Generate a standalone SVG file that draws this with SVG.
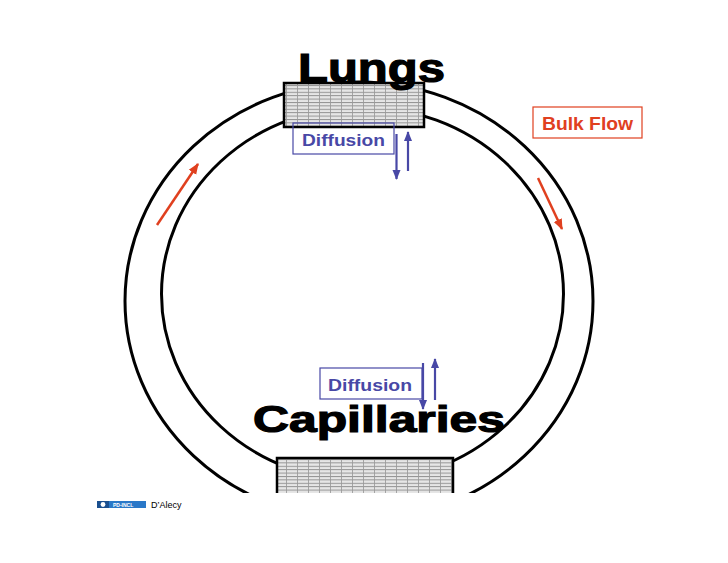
<svg xmlns="http://www.w3.org/2000/svg" width="728" height="563" viewBox="0 0 728 563">
  <style>
    .ring { fill: none; stroke: #000; stroke-width: 3; }
    .grid { fill: url(#gridPat); stroke: #000; stroke-width: 2.5; }
    .title { font-family: "Liberation Sans", Arial, sans-serif; font-weight: bold; fill: #000; stroke: #000; stroke-width: 1.2; }
    .blueTxt { font-family: "Liberation Sans", Arial, sans-serif; font-weight: bold; font-size: 17px; fill: #4848a6; }
    .blueBox { fill: none; stroke: #4848a6; stroke-width: 1.2; }
    .redTxt { font-family: "Liberation Sans", Arial, sans-serif; font-weight: bold; font-size: 17.5px; fill: #e0401f; }
    .redBox { fill: none; stroke: #e0401f; stroke-width: 1.2; }
    .blueArr { stroke: #4848a6; stroke-width: 2.2; fill: none; marker-end: url(#blueHead); }
    .redArr { stroke: #e0401f; stroke-width: 2.5; fill: none; marker-end: url(#redHead); }
  </style>
  <defs>
    <pattern id="gridPat" patternUnits="userSpaceOnUse" width="11" height="3.4">
      <rect width="11" height="3.4" fill="#e6e6e6"/>
      <line x1="0" y1="0.5" x2="11" y2="0.5" stroke="#8a8a8a" stroke-width="0.9"/>
      <line x1="0.5" y1="0" x2="0.5" y2="3.4" stroke="#9a9a9a" stroke-width="0.8"/>
    </pattern>
    <marker id="blueHead" markerUnits="userSpaceOnUse" markerWidth="10" markerHeight="10" viewBox="0 0 10 10" refX="9" refY="5" orient="auto">
      <path d="M0,1 L10,5 L0,9 Z" fill="#4848a6"/>
    </marker>
    <marker id="redHead" markerUnits="userSpaceOnUse" markerWidth="11" markerHeight="11" viewBox="0 0 10 10" refX="9" refY="5" orient="auto">
      <path d="M0,1 L10,5 L0,9 Z" fill="#e0401f"/>
    </marker>
    <clipPath id="pageClip">
      <rect x="0" y="0" width="728" height="493"/>
    </clipPath>
  </defs>

  <rect width="728" height="563" fill="#fff"/>

  <g id="circulation" clip-path="url(#pageClip)">
    <ellipse class="ring" cx="359" cy="301" rx="234" ry="219"/>
    <ellipse class="ring" cx="362.5" cy="294" rx="201" ry="187"/>
  </g>

  <g id="lungs">
    <rect class="grid" x="284" y="83" width="140" height="44"/>
    <text class="title" x="298" y="82" font-size="41" textLength="147" lengthAdjust="spacingAndGlyphs">Lungs</text>
  </g>

  <g id="capillaries">
    <g clip-path="url(#pageClip)">
      <rect class="grid" x="277" y="458" width="176" height="50"/>
    </g>
    <text class="title" x="253" y="432" font-size="37" textLength="252" lengthAdjust="spacingAndGlyphs">Capillaries</text>
  </g>

  <g id="diffusion-lungs">
    <rect class="blueBox" x="293" y="123" width="101" height="31"/>
    <text class="blueTxt" x="302" y="146" textLength="83" lengthAdjust="spacingAndGlyphs">Diffusion</text>
  </g>

  <g id="diffusion-capillaries">
    <rect class="blueBox" x="320" y="368" width="102" height="31"/>
    <text class="blueTxt" x="328" y="391" textLength="84" lengthAdjust="spacingAndGlyphs">Diffusion</text>
  </g>

  <g id="bulk-flow">
    <rect class="redBox" x="533" y="107" width="109" height="31"/>
    <text class="redTxt" x="542" y="130" textLength="91" lengthAdjust="spacingAndGlyphs">Bulk Flow</text>
  </g>

  <g id="connectors">
    <line class="blueArr" x1="396.5" y1="134" x2="396.5" y2="179"/>
    <line class="blueArr" x1="408" y1="171" x2="408" y2="132"/>
    <line class="blueArr" x1="423" y1="363" x2="423" y2="409"/>
    <line class="blueArr" x1="435" y1="400" x2="435" y2="359"/>
    <line class="redArr" x1="157" y1="225" x2="198" y2="164"/>
    <line class="redArr" x1="538" y1="178" x2="562" y2="229"/>
  </g>

  <g id="credit">
    <rect x="97" y="501" width="49" height="7" fill="#2a78c8"/>
    <rect x="97" y="501" width="12" height="7" fill="#1a4f8f"/>
    <circle cx="103" cy="504.5" r="2.4" fill="#fff"/>
    <text x="113" y="507" font-family="'Liberation Sans', Arial, sans-serif" font-size="5" font-weight="bold" fill="#fff">PD-INCL</text>
    <text x="151" y="508" font-family="'Liberation Sans', Arial, sans-serif" font-size="9" fill="#000">D’Alecy</text>
  </g>
</svg>
